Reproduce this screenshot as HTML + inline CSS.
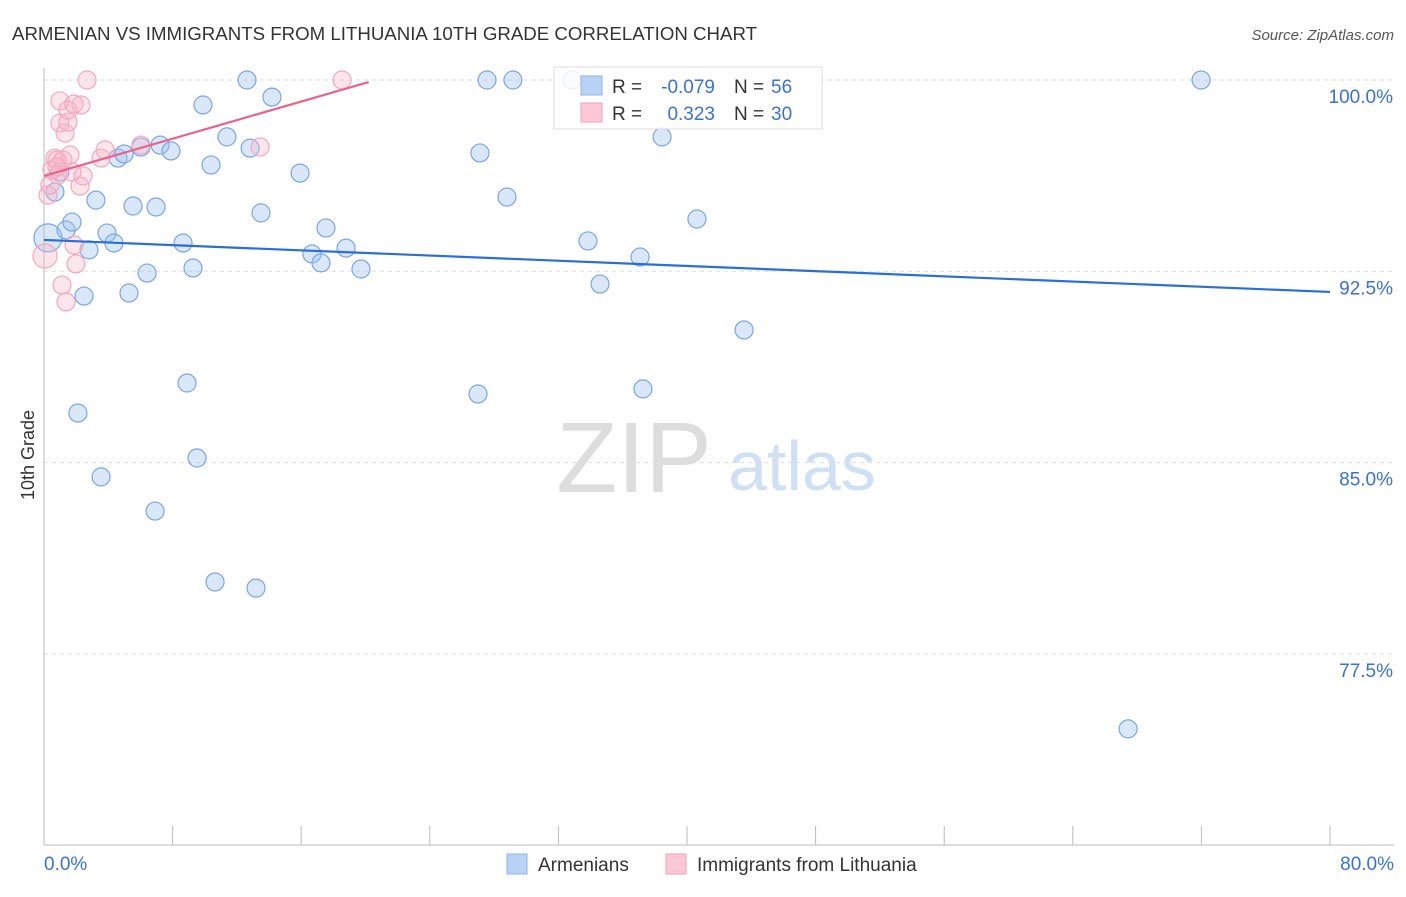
<!DOCTYPE html>
<html><head><meta charset="utf-8"><style>
body{margin:0;background:#fff;font-family:"Liberation Sans",sans-serif;}
svg text{font-family:"Liberation Sans",sans-serif;}
</style></head><body>
<svg id="c" width="1406" height="892" xmlns="http://www.w3.org/2000/svg">
<text x="12" y="40" font-size="18" fill="#333" textLength="745" lengthAdjust="spacingAndGlyphs">ARMENIAN VS IMMIGRANTS FROM LITHUANIA 10TH GRADE CORRELATION CHART</text>
<text x="1394" y="40" font-size="15" fill="#555" font-style="italic" text-anchor="end">Source: ZipAtlas.com</text>
<text x="634" y="492" font-size="100" fill="#ddd" font-family="Liberation Serif" text-anchor="middle">ZIP</text>
<text x="802" y="490" font-size="70" fill="#cfe0f5" text-anchor="middle">atlas</text>
<g id="grid"></g><g id="axes"></g><g id="pts"></g><g id="lines"></g>
<text x="34" y="455" font-size="18" fill="#333" text-anchor="middle" transform="rotate(-90 34 455)">10th Grade</text>
<g>
<rect x="554" y="67" width="268" height="62" fill="#fff" fill-opacity="0.85" stroke="#ddd"/>
<rect x="581" y="76" width="21" height="19" fill="#b8d3f5" stroke="#8ab4ea"/>
<rect x="581" y="103" width="21" height="19" fill="#fcc8d6" stroke="#f0a0b8"/>
<text x="612" y="93" font-size="19" fill="#333">R = </text><text x="715" y="93" font-size="19" fill="#3a72d0" text-anchor="end">-0.079</text>
<text x="734" y="93" font-size="19" fill="#333">N = </text><text x="771" y="93" font-size="19" fill="#3a72d0">56</text>
<text x="612" y="120" font-size="19" fill="#333">R = </text><text x="715" y="120" font-size="19" fill="#3a72d0" text-anchor="end">0.323</text>
<text x="734" y="120" font-size="19" fill="#333">N = </text><text x="771" y="120" font-size="19" fill="#3a72d0">30</text>
</g>
<g>
<rect x="507" y="854" width="20" height="20" fill="#b8d3f5" stroke="#8ab4ea"/>
<text x="538" y="871" font-size="19" fill="#333">Armenians</text>
<rect x="666" y="854" width="20" height="20" fill="#fcc8d6" stroke="#f0a0b8"/>
<text x="697" y="871" font-size="19" fill="#333">Immigrants from Lithuania</text>
</g>
<text x="44" y="870" font-size="19" fill="#3a72d0">0.0%</text>
<text x="1394" y="870" font-size="19" fill="#3a72d0" text-anchor="end">80.0%</text>
</svg>
<script>
const blueX=[0.25,0.68,0.99,1.37,1.74,2.11,2.49,2.80,3.23,3.55,3.92,4.35,4.60,4.98,5.29,5.54,6.03,6.41,6.91,6.97,7.22,7.90,8.65,8.90,9.27,9.52,9.89,10.39,10.64,11.38,12.63,12.82,13.19,13.50,14.18,15.93,16.67,17.23,17.54,18.79,19.72,27.00,27.12,27.56,28.80,29.17,32.85,33.84,34.59,37.08,37.26,38.45,40.62,43.55,67.44,71.98];
const blueY=[93.81,95.61,96.39,94.12,94.43,86.94,91.53,93.34,95.29,84.44,94.00,93.61,96.94,97.10,91.65,95.06,97.37,92.43,83.10,95.02,97.45,97.22,93.61,88.12,92.63,85.18,99.02,96.67,80.32,97.77,100,97.33,80.08,94.79,99.33,96.35,93.18,92.83,94.20,93.41,92.59,87.69,97.14,100,95.41,100,100,93.69,92.00,93.06,87.89,97.77,94.55,90.20,74.56,100];
const pinkX=[0.06,0.25,0.37,0.50,0.68,0.81,0.87,0.99,0.99,1.12,1.31,1.37,1.49,1.49,1.62,1.74,1.87,1.87,1.99,2.24,2.30,2.43,2.68,3.55,3.80,6.03,13.44,18.54,1.18,0.81];
const pinkY=[93.10,95.49,95.88,96.47,96.94,96.86,96.28,99.18,98.31,91.96,97.92,91.30,98.35,98.82,97.06,96.39,99.06,93.53,92.79,95.84,99.02,96.24,100,96.94,97.26,97.45,97.37,100,96.86,96.59];
const yTicks=[100,92.5,85,77.5];
const yTickLabels=["100.0%","92.5%","85.0%","77.5%"];
const blueTrend=[93.73,91.69];
const pinkTrend=[[0,96.24],[20.2,99.92]];
const NS="http://www.w3.org/2000/svg";
const X=v=>44+v/80*1286, Y=v=>80+(100-v)/7.5*191.3;
function mk(p,t,a){const e=document.createElementNS(NS,t);for(const k in a)e.setAttribute(k,a[k]);document.getElementById(p).appendChild(e);return e;}
yTicks.forEach((t,i)=>{
 const l=mk('grid','line',{x1:44,x2:1394,y1:Y(t),y2:Y(t),stroke:'#ddd','stroke-dasharray':'4,4'});
 
 
 const tx=mk('grid','text',{x:1393,y:Y(t)+23,'font-size':19,fill:'#3a72d0','text-anchor':'end'});
 tx.textContent=yTickLabels[i];
 
 
});
const ax=mk('axes','line',{x1:44,x2:44,y1:68,y2:845,stroke:'#bbb'});


const bx=mk('axes','line',{x1:44,x2:1394,y1:845,y2:845,stroke:'#bbb'});


for(let i=0;i<=10;i++){const t=mk('axes','line',{x1:X(i*8),x2:X(i*8),y1:826,y2:845,stroke:'#bbb'});
 
 }
blueX.forEach((x,i)=>{const c=mk('pts','circle',{cx:X(x),cy:Y(blueY[i]),r:i==0?14:9,fill:'rgba(160,196,240,0.4)',stroke:'#7aa6e2','stroke-width':1.2});
 
 });
pinkX.forEach((x,i)=>{const c=mk('pts','circle',{cx:X(x),cy:Y(pinkY[i]),r:i==0?12:9,fill:'rgba(250,180,200,0.35)',stroke:'#f2a8bd','stroke-width':1.2});
 
 });
const bl=mk('lines','line',{x1:X(0),y1:Y(blueTrend[0]),x2:X(80),y2:Y(blueTrend[1]),stroke:'#2a6fd6','stroke-width':2.2});


const pl=mk('lines','line',{x1:X(pinkTrend[0][0]),y1:Y(pinkTrend[0][1]),x2:X(pinkTrend[1][0]),y2:Y(pinkTrend[1][1]),stroke:'#e8648c','stroke-width':2.2});


</script>
</body></html>
